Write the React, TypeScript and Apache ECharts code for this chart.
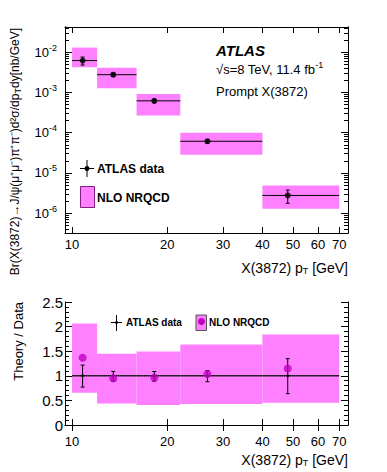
import React, { useEffect, useRef } from 'react';
import * as echarts from 'echarts';

// ---- data ----
const binLo = [10, 12, 16, 22, 40];
const binHi = [12, 16, 22, 40, 70];
const dataPt = [10.8, 13.5, 18.2, 26.8, 48.1];
const xsec = [6.15e-3, 2.74e-3, 6.15e-4, 6.12e-5, 2.77e-6];
const xsecErrHi = [7.5e-3, 3.0e-3, 6.75e-4, 6.8e-5, 3.76e-6];
const xsecErrLo = [4.75e-3, 2.46e-3, 5.5e-4, 5.4e-5, 1.77e-6];
const nrqcdHi = [1.29e-2, 4.09e-3, 9.1e-4, 1.0e-4, 4.9e-6];
const nrqcdLo = [4.19e-3, 1.256e-3, 2.65e-4, 2.85e-5, 1.29e-6];

const ratioTheory = [1.368, 0.947, 0.961, 1.035, 1.15];
const ratioBandHi = [2.065, 1.449, 1.496, 1.638, 1.841];
const ratioBandLo = [0.657, 0.439, 0.404, 0.425, 0.453];
const ratioErrHi = [1.217, 1.089, 1.087, 1.104, 1.348];
const ratioErrLo = [0.77, 0.892, 0.89, 0.88, 0.636];

const xTicks = [10, 20, 30, 40, 50, 60, 70];
const yMajor = [1e-6, 1e-5, 1e-4, 1e-3, 1e-2];
const yMinor: number[] = [];
[1e-7, 1e-6, 1e-5, 1e-4, 1e-3, 1e-2].forEach((d) => {
  for (let k = 2; k <= 9; k++) yMinor.push(+(d * k).toPrecision(3));
});

const X_MIN = 9.5, X_MAX = 74.6;
const Y_MIN = 3.24e-7, Y_MAX = 0.0418;

const FONT = 'Liberation Sans, Arial, Helvetica, sans-serif';
const PINK = '#ff80ff';

const boxRender = (params: any, api: any) => {
  const p0 = api.coord([api.value(0), api.value(3)]);
  const p1 = api.coord([api.value(1), api.value(2)]);
  return {
    type: 'rect',
    shape: { x: p0[0], y: p0[1], width: p1[0] - p0[0], height: p1[1] - p0[1] },
    style: { fill: PINK },
  };
};

const errRender = (params: any, api: any) => {
  const x = api.value(0), y = api.value(1), lo = api.value(2), hi = api.value(3);
  const xl = api.value(4), xh = api.value(5);
  const c = api.coord([x, y]);
  const l = api.coord([xl, y]);
  const r = api.coord([xh, y]);
  const t = api.coord([x, hi]);
  const b = api.coord([x, lo]);
  const style = { stroke: '#000', lineWidth: 1 };
  return {
    type: 'group',
    children: [
      { type: 'line', shape: { x1: l[0], y1: c[1], x2: r[0], y2: c[1] }, style },
      { type: 'line', shape: { x1: c[0], y1: t[1], x2: c[0], y2: b[1] }, style },
      { type: 'line', shape: { x1: c[0] - 2, y1: t[1], x2: c[0] + 2, y2: t[1] }, style },
      { type: 'line', shape: { x1: c[0] - 2, y1: b[1], x2: c[0] + 2, y2: b[1] }, style },
    ],
  };
};

export default function App() {
  const ref = useRef<HTMLDivElement>(null);
  useEffect(() => {
    if (!ref.current) return;
    const chart = echarts.init(ref.current, null, { renderer: 'svg' });
    const frame = { show: true, lineStyle: { color: '#000', width: 1 } };
    const xCommon = (grid: number, pos: string, labels: boolean, margin: number) => ({
      type: 'log',
      logBase: 10,
      gridIndex: grid,
      position: pos,
      min: X_MIN,
      max: X_MAX,
      axisLine: frame,
      splitLine: { show: false },
      axisTick: { show: true, inside: true, length: 6, customValues: xTicks, lineStyle: { color: '#000' } },
      axisLabel: {
        show: labels,
        customValues: xTicks,
        color: '#000',
        fontSize: 13,
        fontFamily: FONT,
        margin,
        formatter: (v: number) => String(Math.round(v)),
      },
    });
    const yLogAxis = (pos: string, ticks: number[], len: number, labels: boolean) => ({
      type: 'log',
      logBase: 10,
      gridIndex: 0,
      position: pos,
      min: Y_MIN,
      max: Y_MAX,
      axisLine: frame,
      splitLine: { show: false },
      axisTick: { show: true, inside: true, length: len, customValues: ticks, lineStyle: { color: '#000' } },
      axisLabel: {
        show: labels,
        customValues: yMajor,
        margin: 8,
        formatter: (v: number) => `{b|10}{s|${Math.round(Math.log10(v))}}`,
        rich: {
          b: { fontSize: 13, color: '#000', fontFamily: FONT },
          s: { fontSize: 9, color: '#000', fontFamily: FONT, padding: [0, 0, 9, 0] },
        },
      },
    });
    const yRatioAxis = (pos: string, labels: boolean) => ({
      type: 'value',
      gridIndex: 1,
      position: pos,
      min: 0,
      max: 2.5,
      interval: 0.5,
      axisLine: frame,
      splitLine: { show: false },
      axisTick: { show: true, inside: true, length: 7, lineStyle: { color: '#000' } },
      minorTick: { show: true, splitNumber: 5, length: 4, lineStyle: { color: '#000' } },
      axisLabel: { show: labels, color: '#000', fontSize: 15, fontFamily: FONT, margin: 2 },
    });

    const xTitle = (y: number) => ({
      type: 'text',
      x: 348,
      y,
      style: {
        text: '{n|X(3872) p}{sub|T}{n| [GeV]}',
        align: 'right',
        verticalAlign: 'middle',
        rich: {
          n: { fontSize: 14, fontFamily: FONT, fill: '#000' },
          sub: { fontSize: 9, fontFamily: FONT, fill: '#000', padding: [5, 0, 0, 0] },
        },
      },
    });

    const option: any = {
      animation: false,
      backgroundColor: '#fff',
      textStyle: { fontFamily: FONT },
      grid: [
        { left: 65, top: 27, width: 283, height: 206 },
        { left: 65, top: 302, width: 283, height: 123 },
      ],
      xAxis: [
        xCommon(0, 'bottom', true, 5),
        xCommon(0, 'top', false, 5),
        xCommon(1, 'bottom', true, 10),
        xCommon(1, 'top', false, 5),
      ],
      yAxis: [
        yLogAxis('left', yMajor, 7, true),
        yLogAxis('left', yMinor, 4, false),
        yLogAxis('right', yMajor, 7, false),
        yLogAxis('right', yMinor, 4, false),
        yRatioAxis('left', true),
        yRatioAxis('right', false),
      ],
      series: [
        {
          type: 'custom',
          xAxisIndex: 0,
          yAxisIndex: 0,
          renderItem: boxRender,
          data: binLo.map((lo, i) => [lo, binHi[i], nrqcdLo[i], nrqcdHi[i]]),
          encode: { x: [0, 1], y: [2, 3] },
          z: 1,
        },
        {
          type: 'custom',
          xAxisIndex: 0,
          yAxisIndex: 0,
          renderItem: errRender,
          data: dataPt.map((x, i) => [x, xsec[i], xsecErrLo[i], xsecErrHi[i], binLo[i], binHi[i]]),
          encode: { x: 0, y: 1 },
          z: 3,
        },
        {
          type: 'scatter',
          xAxisIndex: 0,
          yAxisIndex: 0,
          symbol: 'circle',
          symbolSize: 6,
          itemStyle: { color: '#000' },
          data: dataPt.map((x, i) => [x, xsec[i]]),
          z: 4,
        },
        {
          type: 'custom',
          xAxisIndex: 2,
          yAxisIndex: 4,
          renderItem: boxRender,
          data: binLo.map((lo, i) => [lo, binHi[i], ratioBandLo[i], ratioBandHi[i]]),
          encode: { x: [0, 1], y: [2, 3] },
          z: 1,
        },
        {
          type: 'line',
          xAxisIndex: 2,
          yAxisIndex: 4,
          symbol: 'none',
          lineStyle: { color: '#000', width: 1, type: [1, 1] },
          data: [[binLo[0], 1], [binHi[binHi.length - 1], 1]],
          z: 2,
        },
        {
          type: 'custom',
          xAxisIndex: 2,
          yAxisIndex: 4,
          renderItem: errRender,
          data: dataPt.map((x, i) => [x, 1, ratioErrLo[i], ratioErrHi[i], binLo[i], binHi[i]]),
          encode: { x: 0, y: 1 },
          z: 3,
        },
        {
          type: 'scatter',
          xAxisIndex: 2,
          yAxisIndex: 4,
          symbolSize: 3,
          itemStyle: { color: '#000' },
          data: dataPt.map((x) => [x, 1]),
          z: 4,
        },
        {
          type: 'scatter',
          xAxisIndex: 2,
          yAxisIndex: 4,
          symbolSize: 8,
          itemStyle: { color: '#c000c0' },
          data: dataPt.map((x, i) => [x, ratioTheory[i]]),
          z: 5,
        },
      ],
      graphic: [
        // top y title
        {
          type: 'text',
          x: 15,
          y: 28,
          rotation: Math.PI / 2,
          style: {
            text: '{n|Br(X(3872)→J/ψ(μ⁺μ⁻)π⁺π⁻)d²σ/dp}{sub|T}{n|dy[nb/GeV]}',
            align: 'right',
            verticalAlign: 'middle',
            rich: {
              n: { fontSize: 12, fontFamily: FONT, fill: '#000' },
              sub: { fontSize: 9, fontFamily: FONT, fill: '#000', padding: [6, 0, 0, 0] },
            },
          },
        },
        // bottom y title
        {
          type: 'text',
          x: 18,
          y: 302,
          rotation: Math.PI / 2,
          style: { text: 'Theory / Data', align: 'right', verticalAlign: 'middle', fontSize: 13, fontFamily: FONT, fill: '#000' },
        },
        // x titles
        xTitle(268),
        xTitle(460),
        // ATLAS labels
        {
          type: 'text',
          x: 216,
          y: 50,
          style: { text: 'ATLAS', fontSize: 15, fontWeight: 'bold', fontStyle: 'italic', fontFamily: FONT, fill: '#000', verticalAlign: 'middle' },
        },
        {
          type: 'text',
          x: 216,
          y: 69,
          style: {
            text: '{n|√s=8 TeV, 11.4 fb}{sup|-1}',
            verticalAlign: 'middle',
            rich: {
              n: { fontSize: 13, fontFamily: FONT, fill: '#000' },
              sup: { fontSize: 9, fontFamily: FONT, fill: '#000', padding: [0, 0, 8, 0] },
            },
          },
        },
        {
          type: 'text',
          x: 216,
          y: 91,
          style: { text: 'Prompt X(3872)', fontSize: 13, fontFamily: FONT, fill: '#000', verticalAlign: 'middle' },
        },
        // top legend
        { type: 'line', shape: { x1: 87, y1: 160, x2: 87, y2: 177 }, style: { stroke: '#000', lineWidth: 1 } },
        { type: 'line', shape: { x1: 80, y1: 168.5, x2: 94, y2: 168.5 }, style: { stroke: '#000', lineWidth: 1 } },
        { type: 'circle', shape: { cx: 87, cy: 168.5, r: 2.5 }, style: { fill: '#000' } },
        { type: 'text', x: 97, y: 168.5, style: { text: 'ATLAS data', fontSize: 12, fontWeight: 'bold', fontFamily: FONT, fill: '#000', verticalAlign: 'middle' } },
        { type: 'rect', shape: { x: 80.5, y: 186.5, width: 14, height: 21 }, style: { fill: PINK, stroke: '#802080', lineWidth: 1 } },
        { type: 'text', x: 97, y: 197.5, style: { text: 'NLO NRQCD', fontSize: 12, fontWeight: 'bold', fontFamily: FONT, fill: '#000', verticalAlign: 'middle' } },
        // bottom legend
        { type: 'line', shape: { x1: 116.5, y1: 315, x2: 116.5, y2: 331 }, style: { stroke: '#000', lineWidth: 1 } },
        { type: 'line', shape: { x1: 111, y1: 322.5, x2: 122, y2: 322.5 }, style: { stroke: '#000', lineWidth: 1 } },
        { type: 'circle', shape: { cx: 116.5, cy: 322.5, r: 1.5 }, style: { fill: '#000' } },
        { type: 'text', x: 126, y: 322.5, style: { text: 'ATLAS data', fontSize: 10, fontWeight: 'bold', fontFamily: FONT, fill: '#000', verticalAlign: 'middle' } },
        { type: 'rect', shape: { x: 196, y: 315, width: 10.5, height: 15.5 }, style: { fill: PINK, stroke: '#555', lineWidth: 1 } },
        { type: 'circle', shape: { cx: 201.5, cy: 321.5, r: 3.5 }, style: { fill: '#c000c0' } },
        { type: 'text', x: 209, y: 322.5, style: { text: 'NLO NRQCD', fontSize: 10, fontWeight: 'bold', fontFamily: FONT, fill: '#000', verticalAlign: 'middle' } },
      ],
    };
    chart.setOption(option);
    return () => chart.dispose();
  }, []);
  return <div ref={ref} style={{ position: 'absolute', left: 0, top: 0, width: 387, height: 472 }} />;
}
